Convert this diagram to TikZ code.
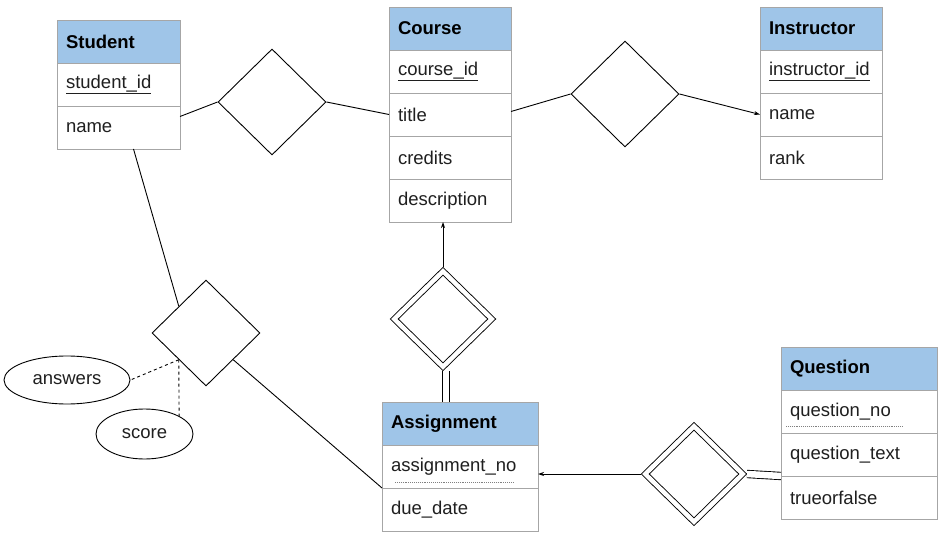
\documentclass[tikz,border=0pt]{standalone}
\usepackage{fontspec}
\setmainfont{Liberation Sans}
\usetikzlibrary{positioning,arrows.meta,shapes.geometric}
\definecolor{headblue}{HTML}{9FC5E8}
\definecolor{gridgray}{HTML}{A6A6A6}
\definecolor{inkgray}{HTML}{1F1F1F}

\begin{document}
\begin{tikzpicture}[
  x=1pt, y=-1pt,
  >={Stealth[length=6pt,width=4pt]},
  tblrow/.style={
    rectangle, draw=gridgray, fill=white, line width=0.8pt,
    text width=#1, minimum height=43pt, inner xsep=9pt, inner ysep=0pt,
    outer sep=0pt, align=left, text=inkgray,
    font=\fontsize{18.5}{22}\selectfont
  },
  tblrow/.default=104pt,
  tblhead/.style={tblrow=#1, fill=headblue, text=black,
    font=\fontsize{18.5}{22}\selectfont\bfseries},
  tblhead/.default=104pt,
  rel/.style={
    diamond, draw, fill=white, line width=0.9pt, inner sep=0pt,
    minimum width=108pt, minimum height=106pt
  },
  wrel/.style={rel, double, double distance=4.5pt,
    minimum width=100pt, minimum height=98pt, outer sep=3pt},
  wlink/.style={double, double distance=6.5pt},
  attr/.style={
    ellipse, draw, line width=0.9pt, inner sep=0pt, text=inkgray,
    font=\fontsize{18.5}{22}\selectfont
  },
  every path/.style={line width=0.9pt}
]
\useasboundingbox (0,0) rectangle (947,540);

% entities
\node[tblhead=105pt, anchor=north west] (stu) at (57,20) {Student};
\node[tblrow=105pt, below=0pt of stu] (stu-id) {\underline{student\_id}};
\node[tblrow=105pt, below=0pt of stu-id] (stu-name) {name};

\node[tblhead, anchor=north west] (crs) at (389,7) {Course};
\node[tblrow, below=0pt of crs] (crs-id) {\underline{course\_id}};
\node[tblrow, below=0pt of crs-id] (crs-title) {title};
\node[tblrow, below=0pt of crs-title] (crs-cred) {credits};
\node[tblrow, below=0pt of crs-cred] (crs-desc) {description};

\node[tblhead, anchor=north west] (ins) at (760,7) {Instructor};
\node[tblrow, below=0pt of ins] (ins-id) {\underline{instructor\_id}};
\node[tblrow, below=0pt of ins-id] (ins-name) {name};
\node[tblrow, below=0pt of ins-name] (ins-rank) {rank};

\node[tblhead=138pt, anchor=north west] (qst) at (781,347) {Question};
\node[tblrow=138pt, below=0pt of qst] (qst-no) {question\_no};
\node[tblrow=138pt, below=0pt of qst-no] (qst-text) {question\_text};
\node[tblrow=138pt, below=0pt of qst-text] (qst-tf) {trueorfalse};

\node[tblhead=138pt, anchor=north west] (asg) at (382,402) {Assignment};
\node[tblrow=138pt, below=0pt of asg] (asg-no) {assignment\_no};
\node[tblrow=138pt, below=0pt of asg-no] (asg-due) {due\_date};

% partial keys
\draw[densely dotted, gray, line width=0.6pt]
  ([xshift=5pt,yshift=7pt]qst-no.south west) -- ([xshift=122pt,yshift=7pt]qst-no.south west);
\draw[densely dotted, gray, line width=0.6pt]
  ([xshift=13pt,yshift=6pt]asg-no.south west) -- ([xshift=131pt,yshift=6pt]asg-no.south west);

% relationships
\node[rel] (rel1) at (272,102) {};
\node[rel] (rel2) at (625,94) {};
\node[rel] (rel3) at (206,333) {};
\node[wrel] (rel4) at (443,319) {};
\node[wrel] (rel5) at (694,474) {};

% attributes
\node[attr, minimum width=126pt, minimum height=48pt] (answers) at (67,380) {answers};
\node[attr, minimum width=97pt, minimum height=50pt] (score) at (144.5,434) {score};

% connectors
\draw ([yshift=11pt]stu-name.east) -- (rel1.west);
\draw (rel1.east) -- (crs-title.west);
\draw ([yshift=3pt]crs-title.east) -- (rel2.west);
\draw[->] (rel2.east) -- (ins-name.west);
\draw ([xshift=15pt]stu-name.south) -- (rel3.north west);
\draw (rel3.south east) -- (asg-no.south west);
\draw[dashed] (rel3.south west) -- (answers.east);
\draw[dashed] (rel3.south west) -- (score.north east);
\draw[->] (rel4.north) -- (rel4.north |- crs-desc.south);
\draw[wlink] ([xshift=3pt]rel4.south) -- ([xshift=3pt]rel4.south |- asg.north);
\draw[->] (rel5.west) -- (rel5.west -| asg-no.east);
\draw[wlink] (rel5.east) -- (qst-text.south west);

\end{tikzpicture}
\end{document}
